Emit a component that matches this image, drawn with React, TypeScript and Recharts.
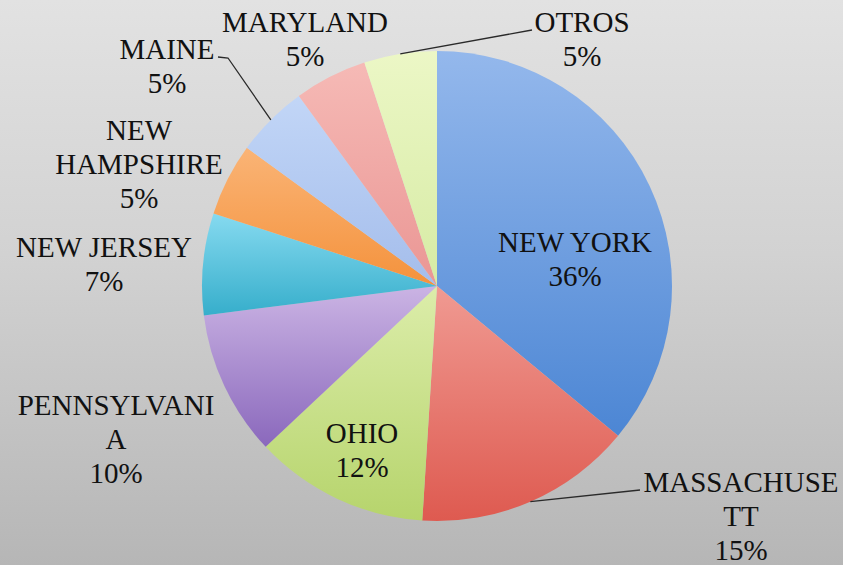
import React from "react";
import { PieChart, Pie, Cell } from "recharts";

const STATES = ["NEW YORK", "MASSACHUSETT", "OHIO", "PENNSYLVANIA", "NEW JERSEY", "NEW HAMPSHIRE", "MAINE", "MARYLAND", "OTROS"];
const SHARES = [36, 15, 12, 10, 7, 5, 5, 5, 5];
const LABEL_LINES = [
  ["NEW YORK"],
  ["MASSACHUSE", "TT"],
  ["OHIO"],
  ["PENNSYLVANI", "A"],
  ["NEW JERSEY"],
  ["NEW", "HAMPSHIRE"],
  ["MAINE"],
  ["MARYLAND"],
  ["OTROS"],
];

const GRADIENTS: [string, string][] = [
  ["#94b8ec", "#4c86d4"],
  ["#f09a92", "#de5a50"],
  ["#dcedaa", "#b6d46c"],
  ["#cbb4e4", "#8a68bc"],
  ["#86daf0", "#36aecb"],
  ["#fab476", "#f4923c"],
  ["#c2d6f7", "#a4bdeb"],
  ["#f6bab6", "#ea9694"],
  ["#ecf7c6", "#d6eba4"],
];

// label anchors relative to pie centre (first baseline, centred text)
const LABEL_LAYOUT: { dx: number; dy: number; leader?: number[][] }[] = [
  { dx: 138, dy: -34 },
  { dx: 304, dy: 206, leader: [[203, 204]] },
  { dx: -75, dy: 157 },
  { dx: -321, dy: 129 },
  { dx: -333, dy: -29 },
  { dx: -298, dy: -146 },
  { dx: -270, dy: -227, leader: [[-209, -228], [-219, -229]] },
  { dx: -132, dy: -254 },
  { dx: 145, dy: -254, leader: [[95, -256]] },
];

const data = STATES.map((name, i) => ({ name, value: SHARES[i] }));

const RAD = Math.PI / 180;
const LINE_H = 34;
const FONT = '"Liberation Serif", "DejaVu Serif", "Times New Roman", serif';

const renderLabel = (props: any) => {
  const { cx, cy, midAngle, outerRadius, index, value } = props;
  const lay = LABEL_LAYOUT[index];
  const x = cx + lay.dx;
  const y = cy + lay.dy;
  const lines = [...LABEL_LINES[index], `${value}%`];
  let leader = null;
  if (lay.leader) {
    const sx = cx + Math.cos(-midAngle * RAD) * outerRadius;
    const sy = cy + Math.sin(-midAngle * RAD) * outerRadius;
    const pts = [[sx, sy], ...lay.leader.map(([a, b]) => [cx + a, cy + b])];
    leader = (
      <polyline
        points={pts.map((p) => p.join(",")).join(" ")}
        fill="none"
        stroke="#2a2a2a"
        strokeWidth={1.3}
      />
    );
  }
  return (
    <g key={`lbl-${index}`}>
      {leader}
      <text
        x={x}
        y={y}
        textAnchor="middle"
        style={{ fontFamily: FONT, fontSize: 29 }}
        fill="#111"
      >
        {lines.map((l, i) => (
          <tspan key={i} x={x} y={y + i * LINE_H} style={{ fontFamily: FONT }}>
            {l}
          </tspan>
        ))}
      </text>
    </g>
  );
};

export default function App() {
  return (
    <div
      style={{
        position: "absolute",
        left: 0,
        top: 0,
        width: 843,
        height: 565,
        fontFamily: FONT,
        background: "linear-gradient(to bottom, #e2e2e2 0%, #d2d2d2 45%, #b6b6b6 100%)",
      }}
    >
      <PieChart width={843} height={565} margin={{ top: 0, right: 0, bottom: 0, left: 0 }} style={{ fontFamily: FONT }}>
        <defs>
          {GRADIENTS.map(([a, b], i) => (
            <linearGradient key={i} id={`g${i}`} x1="0" y1="0" x2="0" y2="1">
              <stop offset="0%" stopColor={a} />
              <stop offset="100%" stopColor={b} />
            </linearGradient>
          ))}
        </defs>
        <Pie
          data={data}
          dataKey="value"
          nameKey="name"
          cx={437}
          cy={286}
          outerRadius={235}
          startAngle={90}
          endAngle={-270}
          stroke="none"
          label={renderLabel}
          labelLine={false}
          isAnimationActive={false}
        >
          {data.map((d, i) => (
            <Cell key={d.name} fill={`url(#g${i})`} />
          ))}
        </Pie>
      </PieChart>
    </div>
  );
}
